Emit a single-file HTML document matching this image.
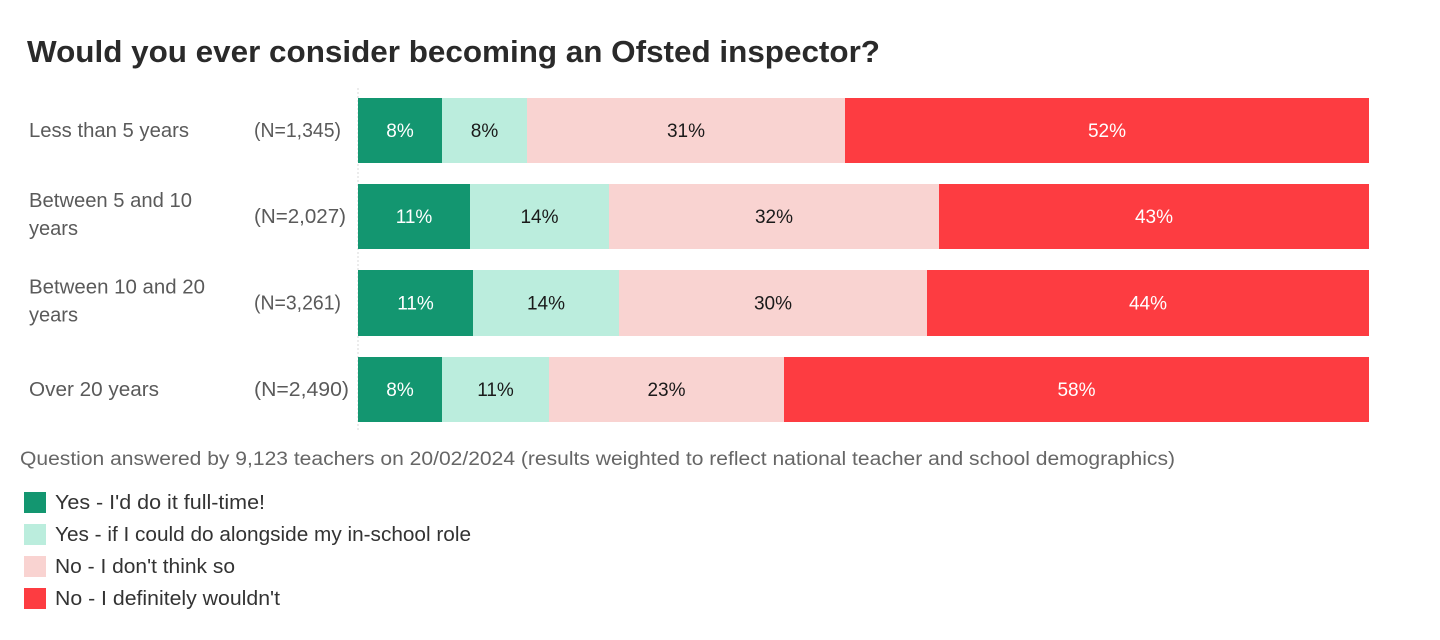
<!DOCTYPE html>
<html>
<head>
<meta charset="utf-8">
<style>
  html,body{margin:0;padding:0;background:#fff;}
  svg{display:block;}
  text{font-family:"Liberation Sans",sans-serif;}
</style>
</head>
<body>
<svg width="1440" height="640" viewBox="0 0 1440 640" xmlns="http://www.w3.org/2000/svg">
  <rect width="1440" height="640" fill="#fff"/>
  <!-- Title -->
  <text x="27" y="62" font-size="31" font-weight="bold" fill="#2a2a2a" textLength="853" lengthAdjust="spacingAndGlyphs">Would you ever consider becoming an Ofsted inspector?</text>

  <!-- axis dashed line -->
  <line x1="358" y1="88" x2="358" y2="432" stroke="#d8d8d8" stroke-width="1" stroke-dasharray="2,2"/>

  <!-- Row 1 -->
  <rect x="358" y="98" width="84" height="65" fill="#139670"/>
  <rect x="442" y="98" width="85" height="65" fill="#bbeddd"/>
  <rect x="527" y="98" width="318" height="65" fill="#f9d3d1"/>
  <rect x="845" y="98" width="524" height="65" fill="#fd3c41"/>
  <!-- Row 2 -->
  <rect x="358" y="184" width="112" height="65" fill="#139670"/>
  <rect x="470" y="184" width="139" height="65" fill="#bbeddd"/>
  <rect x="609" y="184" width="330" height="65" fill="#f9d3d1"/>
  <rect x="939" y="184" width="430" height="65" fill="#fd3c41"/>
  <!-- Row 3 -->
  <rect x="358" y="270" width="115" height="66" fill="#139670"/>
  <rect x="473" y="270" width="146" height="66" fill="#bbeddd"/>
  <rect x="619" y="270" width="308" height="66" fill="#f9d3d1"/>
  <rect x="927" y="270" width="442" height="66" fill="#fd3c41"/>
  <!-- Row 4 -->
  <rect x="358" y="357" width="84" height="65" fill="#139670"/>
  <rect x="442" y="357" width="107" height="65" fill="#bbeddd"/>
  <rect x="549" y="357" width="235" height="65" fill="#f9d3d1"/>
  <rect x="784" y="357" width="585" height="65" fill="#fd3c41"/>

  <!-- Value labels -->
  <g font-size="19" text-anchor="middle">
    <text x="400" y="137" fill="#fff">8%</text>
    <text x="484.5" y="137" fill="#1a1a1a">8%</text>
    <text x="686" y="137" fill="#1a1a1a">31%</text>
    <text x="1107" y="137" fill="#fff">52%</text>

    <text x="414" y="223" fill="#fff">11%</text>
    <text x="539.5" y="223" fill="#1a1a1a">14%</text>
    <text x="774" y="223" fill="#1a1a1a">32%</text>
    <text x="1154" y="223" fill="#fff">43%</text>

    <text x="415.5" y="309.5" fill="#fff">11%</text>
    <text x="546" y="309.5" fill="#1a1a1a">14%</text>
    <text x="773" y="309.5" fill="#1a1a1a">30%</text>
    <text x="1148" y="309.5" fill="#fff">44%</text>

    <text x="400" y="396" fill="#fff">8%</text>
    <text x="495.5" y="396" fill="#1a1a1a">11%</text>
    <text x="666.5" y="396" fill="#1a1a1a">23%</text>
    <text x="1076.5" y="396" fill="#fff">58%</text>
  </g>

  <!-- Row labels -->
  <g font-size="20" fill="#5a5a5a">
    <text x="29" y="137" textLength="160" lengthAdjust="spacingAndGlyphs">Less than 5 years</text>
    <text x="29" y="207" textLength="163" lengthAdjust="spacingAndGlyphs">Between 5 and 10</text>
    <text x="29" y="235" textLength="49" lengthAdjust="spacingAndGlyphs">years</text>
    <text x="29" y="293.5" textLength="176" lengthAdjust="spacingAndGlyphs">Between 10 and 20</text>
    <text x="29" y="321.5" textLength="49" lengthAdjust="spacingAndGlyphs">years</text>
    <text x="29" y="396" textLength="130" lengthAdjust="spacingAndGlyphs">Over 20 years</text>

    <text x="254" y="137" textLength="87" lengthAdjust="spacingAndGlyphs">(N=1,345)</text>
    <text x="254" y="223" textLength="92" lengthAdjust="spacingAndGlyphs">(N=2,027)</text>
    <text x="254" y="309.5" textLength="87" lengthAdjust="spacingAndGlyphs">(N=3,261)</text>
    <text x="254" y="396" textLength="95" lengthAdjust="spacingAndGlyphs">(N=2,490)</text>
  </g>

  <!-- Footnote -->
  <text x="20" y="465" font-size="19" fill="#666" textLength="1155" lengthAdjust="spacingAndGlyphs">Question answered by 9,123 teachers on 20/02/2024 (results weighted to reflect national teacher and school demographics)</text>

  <!-- Legend -->
  <rect x="24" y="492" width="22" height="21" fill="#139670"/>
  <rect x="24" y="524" width="22" height="21" fill="#bbeddd"/>
  <rect x="24" y="556" width="22" height="21" fill="#f9d3d1"/>
  <rect x="24" y="588" width="22" height="21" fill="#fd3c41"/>
  <g font-size="20" fill="#333">
    <text x="55" y="509" textLength="210" lengthAdjust="spacingAndGlyphs">Yes - I'd do it full-time!</text>
    <text x="55" y="541" textLength="416" lengthAdjust="spacingAndGlyphs">Yes - if I could do alongside my in-school role</text>
    <text x="55" y="573" textLength="180" lengthAdjust="spacingAndGlyphs">No - I don't think so</text>
    <text x="55" y="605" textLength="225" lengthAdjust="spacingAndGlyphs">No - I definitely wouldn't</text>
  </g>
</svg>
</body>
</html>
